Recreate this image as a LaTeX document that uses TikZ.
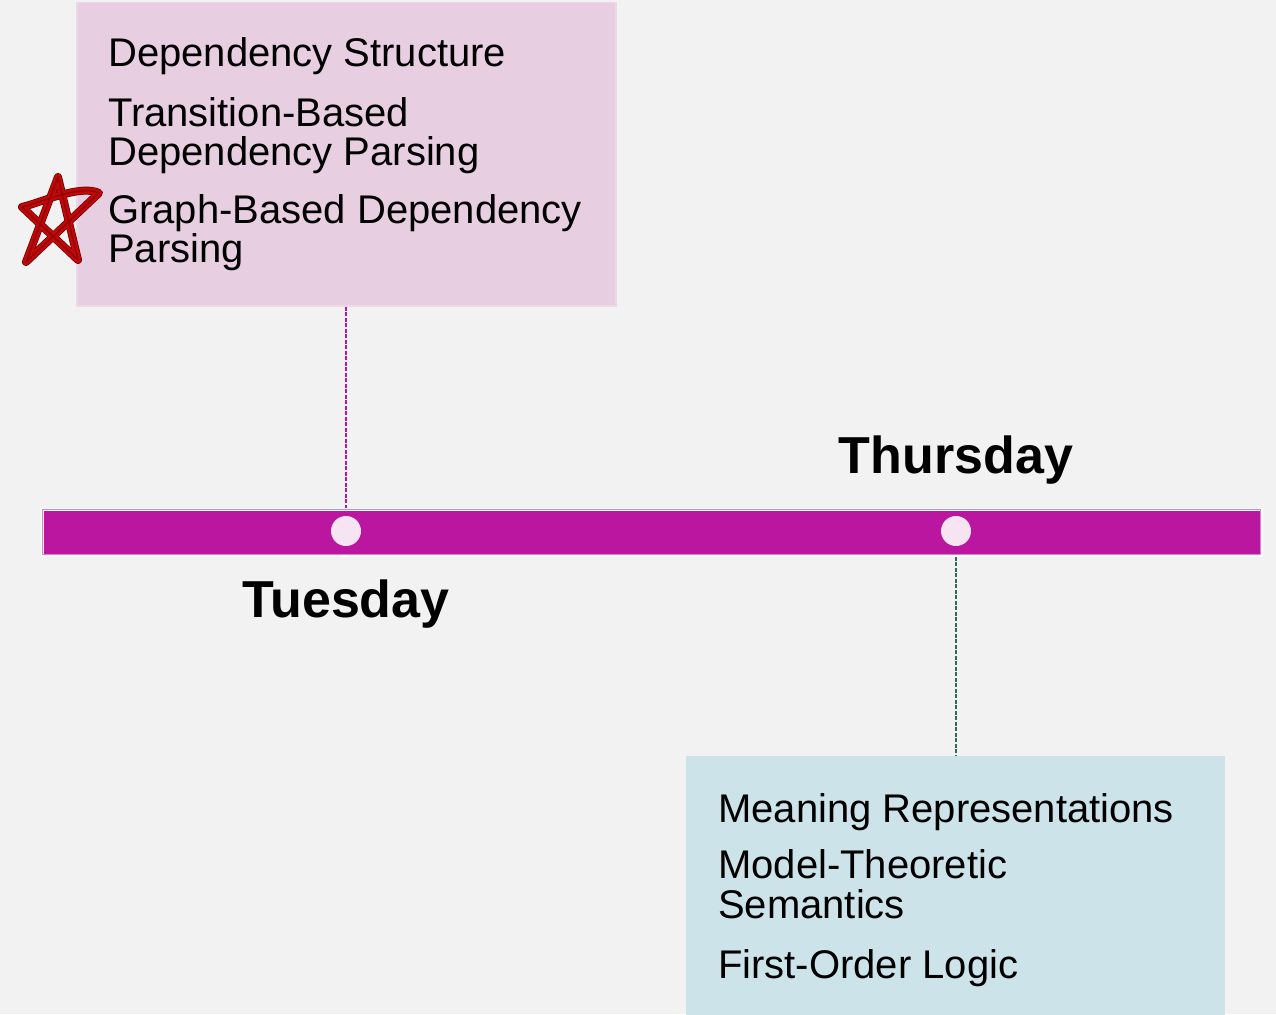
\documentclass[tikz,border=0pt]{standalone}
\usepackage{fontspec}
\setmainfont{Liberation Sans}
\definecolor{pagebg}{HTML}{F2F2F2}
\definecolor{barmag}{HTML}{BA16A0}
\definecolor{barrim}{HTML}{DE7FCF}
\definecolor{dotpink}{HTML}{F7E4F3}
\definecolor{pinkbox}{HTML}{E8CEE1}
\definecolor{pinkrim}{HTML}{ECD8E7}
\definecolor{bluebox}{HTML}{CCE3E9}
\definecolor{linkgreen}{HTML}{2F6B55}
\definecolor{stardark}{HTML}{6E0000}
\definecolor{starred}{HTML}{C00808}
\tikzset{
  item/.style={anchor=base west, inner sep=0pt, font=\fontsize{40}{40}\selectfont},
  day/.style={anchor=base, inner sep=0pt, font=\fontsize{52}{52}\selectfont\bfseries},
  dot/.style={circle, fill=dotpink, minimum size=30pt, inner sep=0pt},
  link/.style={line width=1.8pt, dash pattern=on 4pt off 1.5pt},
  starline/.style={line cap=round, line join=round},
}
\begin{document}
\begin{tikzpicture}[x=1pt, y=-1pt]
  \useasboundingbox (0,0) rectangle (1276,1014);
  \fill[pagebg] (0,0) rectangle (1276,1014);

  % topic boxes
  \node[fill=pinkbox, draw=pinkrim, line width=1.5pt, anchor=north west,
        minimum width=539pt, minimum height=303pt, inner sep=0pt] (tuebox) at (76,2) {};
  \node[fill=bluebox, anchor=north west,
        minimum width=539pt, minimum height=262pt, inner sep=0pt] (thubox) at (686,756) {};

  % timeline bar
  \node[fill=barmag, draw=white, line width=2.5pt, anchor=north west,
        minimum width=1219pt, minimum height=46pt, inner sep=0pt] (bar) at (41,508) {};
  \draw[barrim, line width=0.8pt] ([xshift=1.8pt,yshift=-1.8pt]bar.north west)
        rectangle ([xshift=-1.8pt,yshift=1.8pt]bar.south east);

  % day markers
  \node[dot] (tue) at (346,531) {};
  \node[dot] (thu) at (956,531) {};

  % connectors
  \draw[link, barmag] (tuebox.south -| tue) -- (bar.north -| tue);
  \draw[link, linkgreen] (bar.south -| thu) -- (thubox.north -| thu);

  % day labels
  \node[day] (tuelabel) at (346,617) {Tuesday};
  \node[day] (thulabel) at (956,473) {Thursday};

  % Tuesday topics
  \node[item] (t1)  at (108,67)  {Dependency Structure};
  \node[item] (t2a) at (108,126) {Transition-Based};
  \node[item] (t2b) at (108,165) {Dependency Parsing};
  \node[item] (t3a) at (108,223) {Graph-Based Dependency};
  \node[item] (t3b) at (108,262) {Parsing};

  % Thursday topics
  \node[item] (h1)  at (718,822) {Meaning Representations};
  \node[item] (h2a) at (718,878) {Model-Theoretic};
  \node[item] (h2b) at (718,918) {Semantics};
  \node[item] (h3)  at (718,978) {First-Order Logic};

  % hand-drawn star
  \coordinate (sa) at (26,262);
  \coordinate (sb) at (58,177);
  \coordinate (sc) at (78,260);
  \coordinate (sd) at (22,207);
  \coordinate (se) at (99,193);
  \draw[starline, stardark, line width=8pt]
    (sa) -- (sb) -- (sc) -- (sd) .. controls (40,203) and (80,184) .. (se) -- cycle;
  \draw[starline, starred, line width=6.5pt]
    (sa) -- (sb) -- (sc) -- (sd) .. controls (40,203) and (80,184) .. (se) -- cycle;
  \draw[starline, stardark, line width=1.5pt, opacity=0.5]
    (sa) -- (sb) -- (sc) -- (sd) .. controls (40,203) and (80,184) .. (se) -- cycle;
\end{tikzpicture}
\end{document}
